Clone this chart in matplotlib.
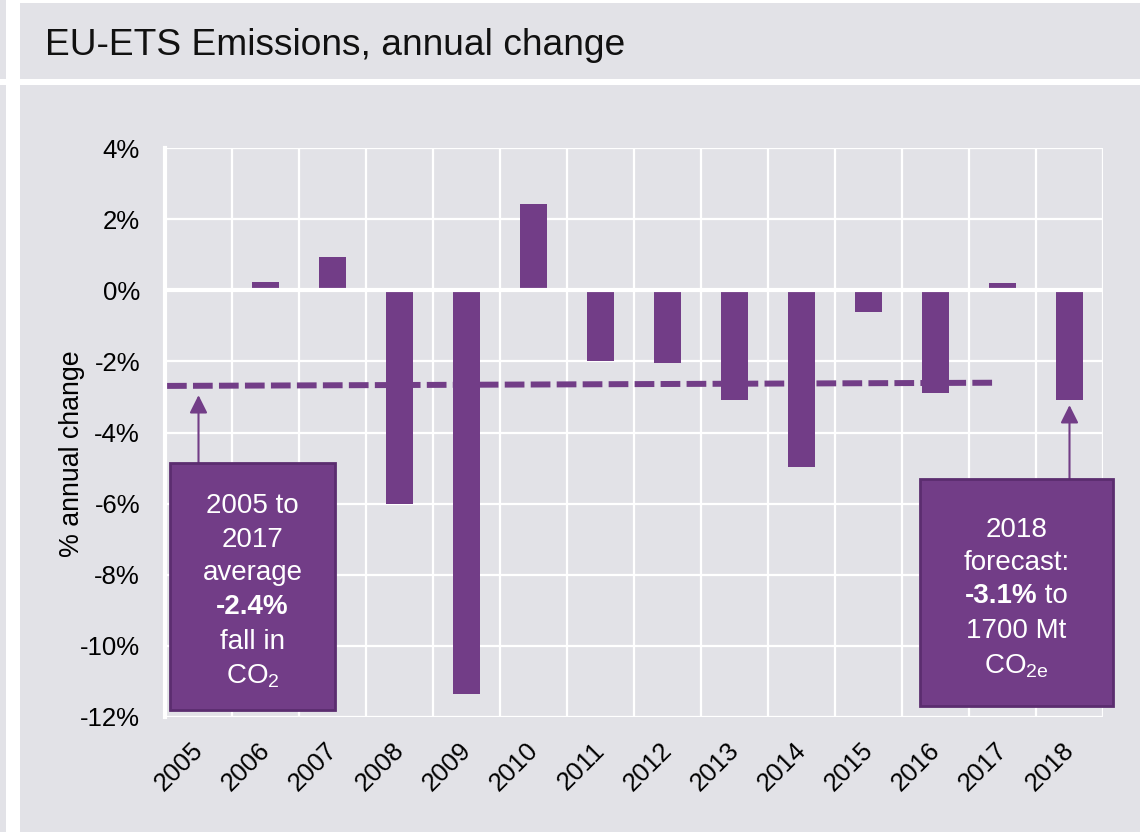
import matplotlib.pyplot as plt
import matplotlib.patches as mpatches
import matplotlib.transforms as mtransforms
import numpy as np

plt.rcParams['font.family'] = ['Liberation Sans', 'DejaVu Sans']
plt.rcParams['mathtext.fontset'] = 'custom'
plt.rcParams['mathtext.rm'] = 'Liberation Sans'
plt.rcParams['mathtext.bf'] = 'Liberation Sans:bold'
plt.rcParams['mathtext.default'] = 'regular'

# data
years = [2005, 2006, 2007, 2008, 2009, 2010, 2011, 2012, 2013, 2014, 2015, 2016, 2017, 2018]
annual_change = [np.nan, 0.22, 0.93, -6.0, -11.35, 2.42, -2.0, -2.05, -3.1, -4.98, -0.6, -2.9, 0.2, -3.1]
trend_ends = [-2.69, -2.60]   # dashed average line, 2005 -> 2017
yticks = [4, 2, 0, -2, -4, -6, -8, -10, -12]

BG = '#e2e2e7'
PURPLE = '#723d87'
EDGE = '#5b2d6f'
W, H = 1140, 832

fig = plt.figure(figsize=(W / 100, H / 100), dpi=100, facecolor='white')


def px_rect(x0, y0, x1, y1, **kw):
    # rectangle given in pixel coords, origin top-left
    r = mpatches.Rectangle((x0 / W, 1 - y1 / H), (x1 - x0) / W, (y1 - y0) / H,
                           transform=fig.transFigure, zorder=-10, **kw)
    fig.patches.append(r)
    return r


# background panels
px_rect(0, 0, 6, 79, facecolor=BG, edgecolor='none')
px_rect(0, 85, 6, 832, facecolor=BG, edgecolor='none')
px_rect(20, 3, 1140, 79, facecolor=BG, edgecolor='none')
px_rect(20, 85, 1140, 832, facecolor=BG, edgecolor='none')

fig.text(45 / W, 1 - 55 / H, 'EU-ETS Emissions, annual change', fontsize=26.7,
         color='#111111', va='baseline', ha='left')

ax = fig.add_axes([165 / W, 1 - 717 / H, 938 / W, 569 / H])
ax.set_facecolor('none')

x = np.arange(len(years))
ax.bar(x, annual_change, width=0.41, color=PURPLE, zorder=2)

# trend line of the average fall
ax.plot([-0.47, 11.93], trend_ends, color=PURPLE, lw=4.3, dashes=(3.3, 1.05),
        solid_capstyle='butt', dash_capstyle='butt', zorder=1.5)

ax.axhline(0, color='white', lw=3, zorder=3)

ax.set_xlim(-0.5, len(years) - 0.5)
ax.set_ylim(-12, 4)
ax.set_yticks(yticks)
ax.set_yticklabels([f'{v}%' for v in yticks])
ax.set_xticks(x)
ax.set_xticklabels([str(y) for y in years], rotation=45, ha='right',
                   va='top', rotation_mode='anchor')
ax.set_xticks(np.arange(-0.5, len(years)), minor=True)
ax.tick_params(axis='x', which='major', length=0, pad=15, labelsize=18.5)
ax.tick_params(axis='x', which='minor', length=0)
ax.tick_params(axis='y', length=0, pad=18, labelsize=18.5)

# nudge the rotated year labels a little to the left
shift = mtransforms.ScaledTranslation(-8 / 100, 0, fig.dpi_scale_trans)
for lab in ax.get_xticklabels():
    lab.set_transform(lab.get_transform() + shift)

ax.grid(axis='y', which='major', color='white', lw=1.6, zorder=0.5)
ax.grid(axis='x', which='minor', color='white', lw=1.6, zorder=0.5)
ax.set_axisbelow(True)

for side in ['top', 'right', 'bottom']:
    ax.spines[side].set_visible(False)
ax.spines['left'].set_color('white')
ax.spines['left'].set_linewidth(3)

ax.set_ylabel('% annual change', fontsize=19.3)
ax.yaxis.label.set_va('center')
ax.yaxis.set_label_coords(-0.099, 0.463)

# annotation boxes
boxes = [(-0.425, -4.87, 2.037, -11.79), (10.77, -5.32, 13.65, -11.70)]
for x0, y0, x1, y1 in boxes:
    ax.add_patch(mpatches.Rectangle((x0, y1), x1 - x0, y0 - y1, facecolor=PURPLE,
                                    edgecolor=EDGE, lw=2, zorder=5, clip_on=False))

arrow_kw = dict(arrowstyle='-|>,head_length=0.4,head_width=0.2', color=PURPLE,
                lw=1.5, mutation_scale=27, shrinkA=0, shrinkB=0)
ax.annotate('', xy=(0, -2.95), xytext=(0, -4.87), arrowprops=arrow_kw, zorder=4)
ax.annotate('', xy=(13, -3.23), xytext=(13, -5.32), arrowprops=arrow_kw, zorder=4)

box_fs = 20


def box_line(px_x, px_baseline, s, **kw):
    return ax.text(px_x / W, 1 - px_baseline / H, s, transform=fig.transFigure,
                   ha='center', va='baseline', color='white', fontsize=box_fs,
                   zorder=6, **kw)


left_lines = ['2005 to', '2017', 'average', '-2.4%', 'fall in', 'CO$_2$']
left_base = [512.7, 547, 580.5, 614, 649, 683]
for s, b in zip(left_lines, left_base):
    box_line(252.5, b, s, fontweight='bold' if s == '-2.4%' else 'normal')

right_lines = ['2018', 'forecast:', None, '1700 Mt', 'CO$_{2e}$']
right_base = [536.7, 570, 603, 638, 673]
for s, b in zip(right_lines, right_base):
    if s is not None:
        box_line(1016.5, b, s)

# mixed bold / regular line
t1 = box_line(1016.5, right_base[2], '-3.1%', fontweight='bold')
t2 = box_line(1016.5, right_base[2], ' to')
t1.set_ha('left')
t2.set_ha('left')
fig.canvas.draw()
renderer = fig.canvas.get_renderer()
w1 = t1.get_window_extent(renderer).width
w2 = t2.get_window_extent(renderer).width
start = -(w1 + w2) / 2
t1.set_transform(fig.transFigure + mtransforms.Affine2D().translate(start, 0))
t2.set_transform(fig.transFigure + mtransforms.Affine2D().translate(start + w1, 0))

fig.savefig('out.png', dpi=100, facecolor='white')
